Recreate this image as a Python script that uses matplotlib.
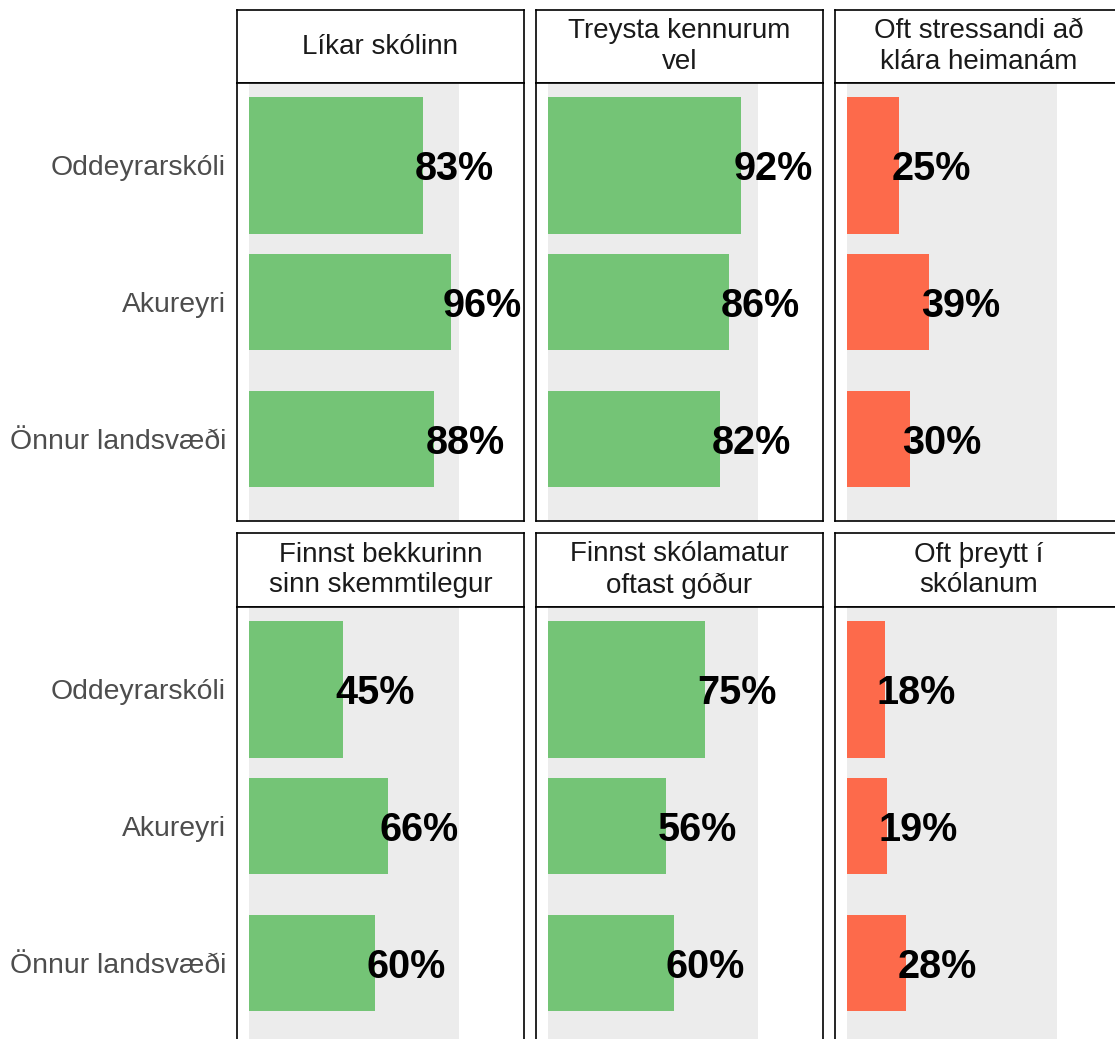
import matplotlib.pyplot as plt

plt.rcParams['font.family'] = ['Liberation Sans', 'DejaVu Sans']

# gögn
hopar = ["Oddeyrarskóli", "Akureyri", "Önnur landsvæði"]
titlar = ["Líkar skólinn", "Treysta kennurum\nvel", "Oft stressandi að\nklára heimanám",
          "Finnst bekkurinn\nsinn skemmtilegur", "Finnst skólamatur\noftast góður", "Oft þreytt í\nskólanum"]
likar = [0.83, 0.96, 0.88]
treysta = [0.92, 0.86, 0.82]
stress = [0.25, 0.39, 0.30]
bekkur = [0.45, 0.66, 0.60]
matur = [0.75, 0.56, 0.60]
threytt = [0.18, 0.19, 0.28]
gildi = [likar, treysta, stress, bekkur, matur, threytt]
neikvaett = [False, False, True, False, False, True]

graent = '#74C476'
rautt = '#FD6A4B'
grar = '#ECECEC'

W, H = 1115, 1039
fig = plt.figure(figsize=(W / 100, H / 100), dpi=100)

col_left = [237, 536, 835]
col_w = 287
rows = [(10, 83, 521), (533, 607, 1045)]  # strip top, panel top, panel bottom

def px_axes(x0, y0, x1, y1):
    return fig.add_axes([x0 / W, 1 - y1 / H, (x1 - x0) / W, (y1 - y0) / H])

for i in range(6):
    r, c = divmod(i, 3)
    s_top, p_top, p_bot = rows[r]
    x0 = col_left[c]

    # strip
    sax = px_axes(x0, s_top, x0 + col_w, p_top)
    sax.set_xticks([])
    sax.set_yticks([])
    for sp in sax.spines.values():
        sp.set_linewidth(1.2)
        sp.set_color('black')
    sax.text(0.5, 0.5, titlar[i], ha='center', va='center', fontsize=20,
             color='#1A1A1A', linespacing=1.25, transform=sax.transAxes)

    # panel
    ax = px_axes(x0, p_top, x0 + col_w, p_bot)
    ax.axvspan(0, 1, color=grar, zorder=0, lw=0)
    lit = rautt if neikvaett[i] else graent
    ypos = [1, 2, 3]
    haed = [1.0, 0.7, 0.7]
    ax.barh(ypos, gildi[i], height=haed, color=lit, zorder=2)
    for y, v in zip(ypos, gildi[i]):
        ax.text(v - 0.038, y + 0.03, f"{round(v * 100)}%", ha='left', va='center',
                fontsize=28.5, fontweight='bold', color='black', zorder=3)
    ax.set_xlim(-0.057, 1.31)
    ax.set_ylim(3.6, 0.4)
    ax.set_xticks([])
    ax.set_yticks(ypos)
    if c == 0:
        ax.set_yticklabels(hopar, fontsize=20.4, color='#4D4D4D')
    else:
        ax.set_yticklabels([])
    ax.tick_params(axis='y', length=0, pad=8)
    for sp in ax.spines.values():
        sp.set_linewidth(1.2)
        sp.set_color('black')

fig.savefig('out.png', dpi=100)
